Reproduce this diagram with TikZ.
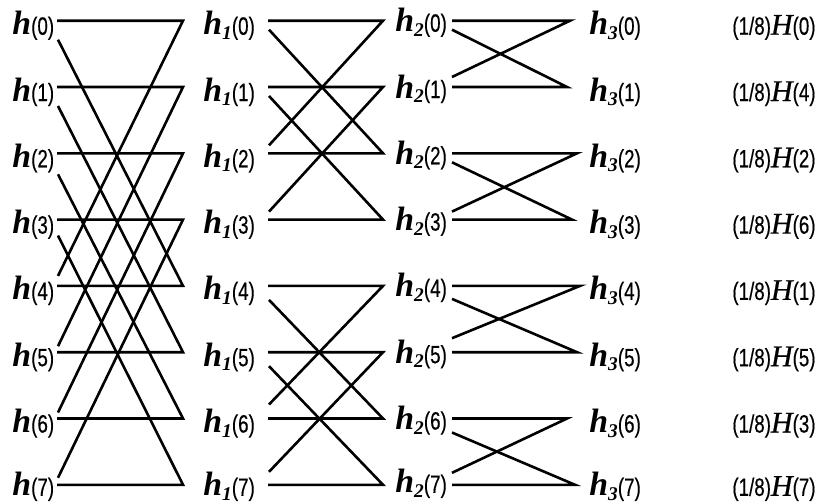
\documentclass[tikz,border=0pt]{standalone}
\usepackage{fontspec}
\usepackage{graphicx}
\setmainfont{Liberation Sans}
\newfontfamily\serfam{Liberation Serif}
\newfontfamily\digfam{Liberation Sans}[FakeBold=0.5]
\newfontfamily\Hfam{Liberation Serif Italic}[FakeBold=0.6]
\newcommand\hsym{{\serfam\bfseries\itshape\fontsize{16.9}{18}\selectfont h}}
\newcommand\subn[1]{{\serfam\bfseries\itshape\fontsize{9.7}{10}\selectfont\raisebox{-2.3pt}{#1}}}
\newcommand\argn[1]{\scalebox{0.75}[1]{\digfam\fontsize{12.5}{14}\selectfont(#1)}}
\newcommand\Hsym{{\Hfam\fontsize{15}{16}\selectfont H}}
\begin{document}
\begin{tikzpicture}[x=0.5pt,y=-0.5pt,
  lab/.style={inner sep=0pt, anchor=base west},
  wire/.style={line width=1.3pt, line join=miter, miter limit=12}]
\useasboundingbox (0,0) rectangle (828,503);
% rows, coordinates and labels
\foreach \k/\m/\da/\db/\dc/\re/\bo in {0/0/19/9/9/570/14, 1/4/19/9/-10/567/14, 2/2/21/-8/9/577/14, 3/6/16/-8/-8/572/14,
                                    4/1/-10/14/13/580/14, 5/5/-6/14/-14/577/14, 6/3/-6/-14/14/567/14, 7/7/-7/-13/-12/575/11}{
  \pgfmathsetmacro\y{20.7+66.3*\k}
  \node[lab] (a\k) at (12,\y+\bo) {\hsym\argn{\k}};
  \node[lab] (b\k) at (203,\y+\bo) {\hsym\subn{1}\argn{\k}};
  \node[lab] (c\k) at (395,\y+\bo-3) {\hsym\subn{2}\argn{\k}};
  \node[lab] (d\k) at (589,\y+\bo) {\hsym\subn{3}\argn{\k}};
  \node[lab] (e\k) at (732,\y+\bo) {\argn{1/8}\Hsym\argn{\m}};
  \coordinate (p\k) at (57,\y);
  \coordinate (q\k) at (183,\y);
  \coordinate (s\k) at (58,\y+\da);
  \coordinate (u\k) at (268,\y);
  \coordinate (v\k) at (383,\y);
  \coordinate (t\k) at (269,\y+\db);
  \coordinate (w\k) at (452,\y);
  \coordinate (z\k) at (\re,\y);
  \coordinate (r\k) at (452,\y+\dc);
}
% butterflies
\foreach \k in {0,...,7}{
  \pgfmathtruncatemacro\pa{\k<4 ? \k+4 : \k-4}
  \pgfmathtruncatemacro\pb{mod(\k,4)<2 ? \k+2 : \k-2}
  \pgfmathtruncatemacro\pc{mod(\k,2)==0 ? \k+1 : \k-1}
  \draw[wire] (p\k) -- (q\k) -- (s\pa);
  \draw[wire] (u\k) -- (v\k) -- (t\pb);
  \draw[wire] (w\k) -- (z\k) -- (r\pc);
}
\end{tikzpicture}
\end{document}
